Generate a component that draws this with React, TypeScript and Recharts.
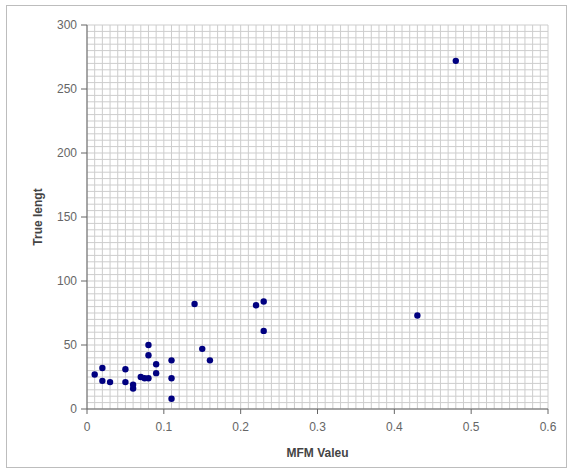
import { ScatterChart, Scatter, XAxis, YAxis, CartesianGrid } from 'recharts'

const mfm = [0.01, 0.02, 0.02, 0.03, 0.05, 0.05, 0.06, 0.06, 0.07, 0.075, 0.08, 0.08, 0.08, 0.09, 0.09, 0.11, 0.11, 0.11, 0.14, 0.15, 0.16, 0.22, 0.23, 0.23, 0.43, 0.48]
const trueLength = [27, 32, 22, 21, 31, 21, 19, 16, 25, 24, 24, 50, 42, 35, 28, 38, 24, 8, 82, 47, 38, 81, 84, 61, 73, 272]

const xTicks = [0, 0.1, 0.2, 0.3, 0.4, 0.5, 0.6]
const yTicks = [0, 50, 100, 150, 200, 250, 300]
// minor grid: every 0.01 on x, every 5 on y
const xMinor = Array.from({ length: 61 }, (_, i) => +(i * 0.01).toFixed(2))
const yMinor = Array.from({ length: 61 }, (_, i) => i * 5)

const points = mfm.map((x, i) => ({ x, y: trueLength[i] }))

const tickStyle = { fill: '#666', fontSize: 12, fontFamily: 'Liberation Sans, Arial, sans-serif' }
const titleStyle = { fill: '#444', fontSize: 12, fontWeight: 700, fontFamily: 'Liberation Sans, Arial, sans-serif' }

const Dot = (p: any) => <circle cx={p.cx} cy={p.cy} r={3.2} fill="#000080" />

const vGen = ({ xAxis, offset }: any) =>
  xMinor.map((v) => (typeof xAxis?.scale === 'function' ? xAxis.scale(v) : offset.left + (v / 0.6) * offset.width))
const hGen = ({ yAxis, offset }: any) =>
  yMinor.map((v) => (typeof yAxis?.scale === 'function' ? yAxis.scale(v) : offset.top + offset.height - (v / 300) * offset.height))

export default function App() {
  return (
    <div style={{ position: 'absolute', left: 6, top: 5, width: 559, height: 461, border: '1px solid #bdbdbd', background: '#fff' }}>
      <ScatterChart width={559} height={461} margin={{ top: 19, right: 18, bottom: 0, left: 0 }}>
        <CartesianGrid stroke="#cdcdcd" strokeWidth={1} verticalCoordinatesGenerator={vGen} horizontalCoordinatesGenerator={hGen} />
        <XAxis
          dataKey="x"
          type="number"
          domain={[0, 0.6]}
          ticks={xTicks}
          tick={tickStyle}
          tickLine={{ stroke: '#666' }}
          axisLine={{ stroke: '#666' }}
          tickSize={5}
          tickMargin={8}
          height={58}
          label={{ value: 'MFM Valeu', position: 'insideBottom', offset: 10, style: titleStyle }}
        />
        <YAxis
          dataKey="y"
          type="number"
          domain={[0, 300]}
          ticks={yTicks}
          tick={tickStyle}
          tickLine={{ stroke: '#666' }}
          axisLine={{ stroke: '#666' }}
          tickSize={6}
          tickMargin={4}
          width={80}
          label={{ value: 'True lengt', angle: -90, position: 'insideLeft', offset: 31, style: { ...titleStyle, textAnchor: 'middle' } }}
        />
        <Scatter data={points} fill="#000080" shape={Dot} isAnimationActive={false} />
      </ScatterChart>
    </div>
  )
}
